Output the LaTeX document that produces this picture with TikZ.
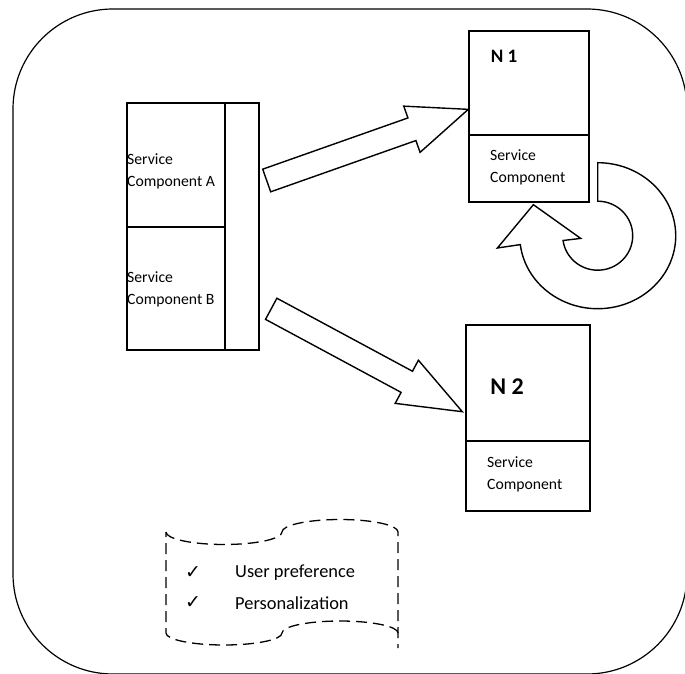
\documentclass[tikz,border=0pt]{standalone}
\usepackage{fontspec}
\setmainfont{Carlito}
\newfontfamily\symfont{DejaVu Sans}
\usetikzlibrary{calc}

\begin{document}
\begin{tikzpicture}[x=1pt, y=1pt,
    every text node part/.style={align=left},
    compbox/.style={draw, line width=1.4pt, inner sep=0pt},
    comptext/.style={anchor=west, inner sep=0pt, font=\fontsize{15.7}{22}\selectfont},
    listtext/.style={anchor=west, inner sep=0pt, font=\fontsize{18.4}{22}\selectfont},
    checkmark/.style={inner sep=0pt, font=\symfont\fontsize{19}{19}\selectfont},
    blockarrow/.style={draw, line width=1.4pt, line join=miter, fill=white},
    tape/.style={line width=1.3pt, dash pattern=on 11pt off 6pt}]
  \useasboundingbox (0,0) rectangle (685,673);
  \clip (0,0) rectangle (685,673);

  % outer frame
  \draw[line width=1.2pt, rounded corners=100pt] (13,-1) rectangle (687,664);

  % service components on the left
  \node[compbox, minimum width=98pt, minimum height=124pt] (compA) at (176,508)   {};
  \node[compbox, minimum width=98pt, minimum height=123pt] (compB) at (176,384.5) {};
  \node[compbox, minimum width=34pt, minimum height=247pt] (strip) at (242,446.5) {};

  \node[comptext] (txtA) at (127,502)   {Service\\Component A};
  \node[comptext] (txtB) at (127,383.5) {Service\\Component B};

  % N 1 and N 2
  \node[compbox, minimum width=120pt, minimum height=104pt] (N1top)  at (529,590)   {};
  \node[compbox, minimum width=120pt, minimum height=67pt]  (N1comp) at (529,504.5) {};
  \node[compbox, minimum width=124pt, minimum height=116pt] (N2top)  at (528,290)   {};
  \node[compbox, minimum width=124pt, minimum height=70pt]  (N2comp) at (528,197)   {};

  \node[inner sep=0pt, font=\bfseries\fontsize{19}{19}\selectfont] (N1lab) at (504,617) {N 1};
  \node[inner sep=0pt, font=\bfseries\fontsize{24}{24}\selectfont] (N2lab) at (507,286) {N 2};
  \node[comptext] (txtN1) at (490,506)   {Service\\Component};
  \node[comptext] (txtN2) at (487,198.5) {Service\\Component};

  % block arrows
  \coordinate (tailA) at ($(strip.east)+(7,46)$);
  \coordinate (tipA)  at ($(N1top.south west)!0.25!(N1top.north west)$);
  \coordinate (neckA) at ($(tailA)!154pt!(tipA)$);
  \draw[blockarrow] ($(tailA)!12pt!90:(tipA)$) -- ($(neckA)!12pt!90:(tipA)$)
    -- ($(neckA)!24.5pt!90:(tipA)$) -- (tipA) -- ($(neckA)!24.5pt!-90:(tipA)$)
    -- ($(neckA)!12pt!-90:(tipA)$) -- ($(tailA)!12pt!-90:(tipA)$) -- cycle;

  \coordinate (tailB) at ($(strip.east)+(11.5,-82.3)$);
  \coordinate (tipB)  at ($(N2top.south west)+(-3,30)$);
  \coordinate (neckB) at ($(tailB)!154pt!(tipB)$);
  \draw[blockarrow] ($(tailB)!12pt!90:(tipB)$) -- ($(neckB)!12pt!90:(tipB)$)
    -- ($(neckB)!24.5pt!90:(tipB)$) -- (tipB) -- ($(neckB)!24.5pt!-90:(tipB)$)
    -- ($(neckB)!12pt!-90:(tipB)$) -- ($(tailB)!12pt!-90:(tipB)$) -- cycle;

  % loop arrow under N 1
  \coordinate (loopC) at ($(N1comp.south east)+(8,-33)$);
  \draw[blockarrow, shift={(loopC)}] (0,73) -- (0,34.5)
    arc[start angle=90, end angle=-172, x radius=35, y radius=34.5]
    -- (-17,-2.7) -- (-64.3,31) -- (-100.3,-12.3) -- (-77.4,-8.9)
    arc[start angle=-173, end angle=90, x radius=78, y radius=73] -- cycle;

  % punched tape note
  \draw[tape] (166,141) arc[start angle=180, end angle=360, x radius=58, y radius=12.5]
    arc[start angle=180, end angle=0, x radius=58, y radius=12.5] -- (398,25);
  \draw[tape] (398,40) arc[start angle=0, end angle=180, x radius=58, y radius=12]
    arc[start angle=360, end angle=180, x radius=58, y radius=12] -- (166,141);

  \node[checkmark] (chk1) at (193,100) {✓};
  \node[checkmark] (chk2) at (193,70)  {✓};
  \node[listtext] (pref) at (235,100) {User preference};
  \node[listtext] (pers) at (235,70)  {Personalization};
\end{tikzpicture}
\end{document}
